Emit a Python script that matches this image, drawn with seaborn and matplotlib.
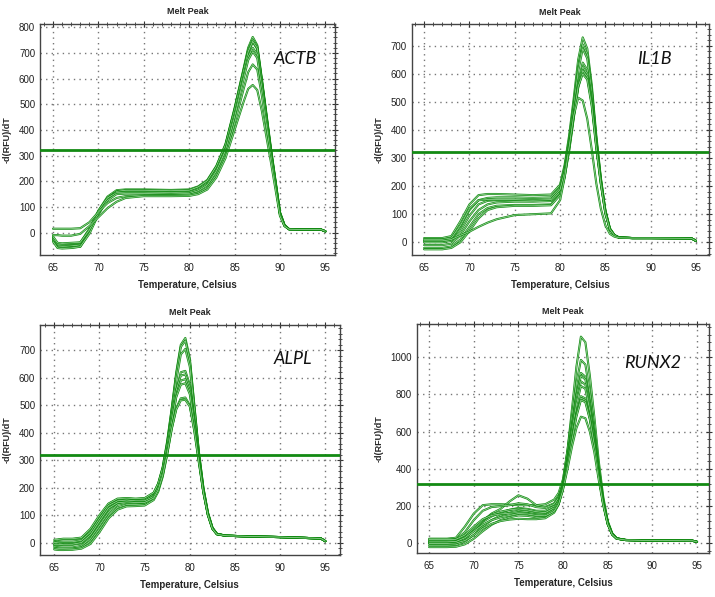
from __future__ import annotations

from typing import List

import matplotlib.pyplot as plt
import matplotlib.patheffects as pe
import pandas as pd
import seaborn as sns
from matplotlib.ticker import AutoMinorLocator, MultipleLocator

THRESHOLD = 320

# ACTB
actb_temps = [65, 65.5, 66, 67, 68, 69, 70, 71, 72, 73, 75, 78, 80, 81, 82, 83, 84, 85,
              86, 86.5, 87, 87.5, 88, 89, 90, 90.5, 91, 93, 94.5, 95]
actb_curves = [
    [-20, -50, -52, -50, -45, 10, 85, 140, 165, 168, 168, 166, 168, 180, 205, 260, 345, 485, 640, 720, 762, 730, 600, 330, 80, 30, 14, 12, 12, 5],
    [-25, -55, -55, -52, -48, 5, 80, 135, 160, 163, 163, 162, 163, 175, 200, 255, 340, 480, 635, 712, 752, 725, 595, 325, 78, 28, 13, 12, 12, 5],
    [-30, -58, -60, -58, -55, 0, 75, 130, 158, 160, 160, 158, 160, 172, 195, 250, 335, 470, 625, 700, 742, 715, 590, 320, 75, 28, 13, 12, 12, 5],
    [-35, -60, -62, -60, -55, -5, 70, 128, 160, 165, 165, 163, 165, 178, 202, 258, 342, 478, 630, 705, 745, 718, 590, 320, 76, 28, 13, 12, 12, 5],
    [-22, -45, -45, -43, -40, 15, 85, 135, 155, 157, 157, 155, 157, 168, 190, 245, 325, 460, 610, 685, 720, 695, 575, 315, 75, 28, 13, 12, 12, 5],
    [-15, -40, -42, -40, -38, 10, 75, 125, 150, 152, 152, 150, 152, 163, 185, 240, 320, 450, 600, 672, 705, 680, 565, 310, 72, 27, 13, 12, 12, 5],
    [15, 15, 15, 15, 17, 40, 80, 115, 135, 142, 145, 145, 147, 155, 175, 225, 300, 425, 560, 625, 655, 635, 535, 300, 70, 26, 13, 12, 12, 5],
    [-10, -10, -12, -12, -5, 25, 60, 95, 120, 135, 142, 142, 143, 150, 168, 215, 290, 400, 510, 560, 575, 555, 475, 275, 65, 25, 13, 12, 12, 5],
]

# IL1B
il1b_temps = [65, 66, 67, 68, 69, 70, 71, 72, 73, 75, 77, 79, 80, 80.5, 81, 81.5, 82, 82.5,
              83, 83.5, 84, 84.5, 85, 85.5, 86, 86.5, 88, 90, 94.5, 95]
il1b_curves = [
    [15, 15, 15, 22, 75, 135, 168, 172, 172, 170, 168, 170, 205, 275, 380, 510, 650, 730, 690, 560, 380, 230, 115, 50, 26, 18, 15, 15, 14, 5],
    [5, 5, 5, 10, 55, 115, 150, 158, 160, 160, 158, 160, 195, 265, 365, 490, 625, 705, 670, 545, 370, 225, 112, 48, 25, 17, 15, 15, 14, 5],
    [0, 0, 0, 5, 40, 95, 135, 148, 150, 150, 148, 150, 185, 255, 355, 480, 610, 690, 655, 535, 365, 222, 110, 48, 25, 17, 15, 15, 14, 5],
    [-10, -10, -10, -5, 25, 75, 115, 135, 142, 145, 145, 147, 180, 245, 340, 455, 570, 640, 615, 510, 350, 215, 108, 47, 25, 17, 15, 15, 14, 5],
    [-20, -20, -20, -15, 10, 55, 100, 122, 130, 133, 133, 135, 170, 235, 330, 445, 560, 625, 600, 500, 345, 212, 105, 46, 25, 17, 15, 15, 14, 5],
    [-25, -25, -25, -20, 0, 40, 85, 115, 125, 130, 130, 132, 168, 232, 325, 440, 550, 612, 590, 492, 340, 210, 104, 46, 25, 17, 15, 15, 14, 5],
    [10, 10, 10, 15, 60, 120, 150, 152, 152, 152, 150, 152, 188, 250, 340, 450, 555, 600, 580, 485, 335, 208, 103, 46, 25, 17, 15, 15, 14, 5],
    [5, 5, 5, 10, 25, 38, 55, 70, 82, 97, 100, 103, 150, 230, 340, 450, 515, 505, 440, 330, 210, 120, 60, 30, 20, 16, 15, 15, 14, 5],
]

# ALPL
alpl_temps = [65, 65.5, 66, 67, 68, 69, 70, 71, 72, 73, 74, 75, 76, 76.5, 77, 77.5, 78, 78.5,
              79, 79.5, 80, 80.5, 81, 81.5, 82, 82.5, 83, 84, 87, 90, 94.5, 95]
alpl_curves = [
    [5, 10, 12, 12, 15, 45, 95, 140, 158, 160, 158, 160, 180, 215, 275, 370, 490, 620, 720, 745, 670, 500, 330, 200, 110, 55, 32, 25, 22, 20, 15, 5],
    [-5, 0, 0, 0, 5, 35, 85, 132, 150, 155, 153, 155, 175, 210, 270, 365, 485, 612, 712, 735, 662, 495, 328, 198, 108, 54, 32, 25, 22, 20, 15, 5],
    [-10, -10, -8, -8, -3, 25, 75, 122, 145, 150, 148, 150, 170, 205, 262, 355, 470, 590, 685, 705, 640, 485, 322, 195, 106, 53, 31, 25, 22, 20, 15, 5],
    [-15, -18, -18, -18, -12, 15, 62, 110, 138, 145, 143, 145, 165, 198, 255, 345, 450, 555, 620, 625, 575, 450, 310, 190, 104, 52, 31, 25, 22, 20, 15, 5],
    [10, 12, 14, 14, 18, 50, 100, 142, 160, 162, 160, 162, 182, 215, 272, 360, 460, 555, 608, 612, 565, 445, 308, 188, 103, 52, 31, 25, 22, 20, 15, 5],
    [-20, -22, -22, -22, -18, 5, 50, 98, 128, 138, 138, 140, 160, 192, 248, 335, 438, 535, 590, 595, 552, 438, 305, 186, 102, 51, 31, 25, 22, 20, 15, 5],
    [0, 2, 3, 3, 8, 38, 88, 135, 152, 155, 152, 152, 168, 200, 255, 340, 440, 530, 575, 580, 540, 430, 300, 185, 101, 51, 30, 25, 22, 20, 15, 5],
    [-25, -27, -27, -26, -22, -5, 38, 88, 120, 132, 133, 135, 155, 185, 240, 322, 415, 490, 525, 528, 500, 410, 295, 183, 100, 50, 30, 25, 22, 20, 15, 5],
    [-8, -8, -6, -6, 0, 28, 78, 125, 145, 148, 146, 146, 162, 192, 245, 325, 415, 485, 518, 520, 495, 405, 292, 182, 100, 50, 30, 25, 22, 20, 15, 5],
]

# RUNX2
runx2_temps = [65, 66, 67, 68, 69, 70, 71, 72, 73, 74, 75, 76, 77, 78, 79, 79.5, 80, 80.5,
               81, 81.5, 82, 82.5, 83, 83.5, 84, 84.5, 85, 85.5, 86, 87, 90, 94.5, 95]
runx2_curves = [
    [10, 10, 10, 12, 30, 70, 115, 145, 165, 180, 190, 185, 175, 175, 200, 240, 330, 500, 720, 950, 1110, 1080, 900, 680, 440, 250, 120, 55, 28, 18, 15, 14, 8],
    [25, 25, 25, 30, 90, 160, 205, 210, 210, 208, 205, 205, 205, 210, 235, 270, 345, 500, 680, 860, 985, 960, 810, 620, 410, 235, 115, 52, 27, 18, 15, 14, 8],
    [0, 0, 0, 3, 25, 70, 120, 160, 185, 225, 258, 240, 205, 195, 215, 250, 325, 470, 640, 800, 915, 895, 760, 590, 390, 225, 112, 50, 26, 18, 15, 14, 8],
    [15, 15, 15, 20, 60, 125, 175, 195, 200, 205, 215, 210, 195, 190, 210, 245, 320, 460, 630, 790, 900, 880, 750, 580, 385, 222, 110, 50, 26, 18, 15, 14, 8],
    [-10, -10, -10, -8, 10, 45, 90, 125, 150, 165, 175, 170, 160, 158, 185, 225, 310, 450, 610, 765, 870, 852, 730, 568, 378, 220, 108, 49, 26, 18, 15, 14, 8],
    [5, 5, 5, 8, 35, 80, 125, 155, 170, 180, 185, 180, 170, 165, 190, 230, 312, 445, 600, 745, 845, 830, 715, 558, 372, 218, 107, 49, 26, 18, 15, 14, 8],
    [-20, -20, -20, -18, -5, 25, 65, 100, 125, 140, 150, 148, 140, 140, 170, 212, 300, 425, 570, 700, 790, 778, 680, 538, 362, 214, 106, 48, 26, 18, 15, 14, 8],
    [20, 20, 20, 22, 45, 90, 130, 150, 158, 162, 165, 162, 155, 152, 180, 220, 305, 425, 565, 692, 780, 768, 672, 532, 360, 213, 105, 48, 26, 18, 15, 14, 8],
    [0, 0, 0, 2, 15, 45, 80, 105, 120, 128, 132, 130, 130, 135, 165, 208, 295, 418, 555, 682, 770, 758, 665, 528, 358, 212, 105, 48, 26, 18, 15, 14, 8],
    [8, 8, 8, 10, 30, 65, 100, 125, 140, 150, 160, 158, 150, 148, 172, 210, 290, 400, 520, 620, 680, 672, 600, 490, 340, 205, 102, 47, 25, 18, 15, 14, 8],
]

GREEN = "#138a13"
LINE_LIGHT = "#a6dca6"

PANELS = [
    # gene, temps, curves, axes rect, xlim, ylim, y step, label pos (axes fraction)
    ("ACTB", actb_temps, actb_curves, [0.056, 0.573, 0.413, 0.387], (63.57, 96.1), (-87, 813), 100, (0.79, 0.85)),
    ("IL1B", il1b_temps, il1b_curves, [0.576, 0.573, 0.415, 0.386], (63.64, 96.39), (-45, 776), 100, (0.76, 0.85)),
    ("ALPL", alpl_temps, alpl_curves, [0.056, 0.070, 0.419, 0.386], (63.42, 96.58), (-46, 793), 100, (0.78, 0.85)),
    ("RUNX2", runx2_temps, runx2_curves, [0.583, 0.073, 0.409, 0.384], (63.62, 96.38), (-54, 1177), 200, (0.71, 0.83)),
]


def to_long(temps: List[float], curves: List[List[float]]) -> pd.DataFrame:
    rows = []
    for i, values in enumerate(curves):
        for t, v in zip(temps, values):
            rows.append({"temp": t, "value": v, "well": i})
    return pd.DataFrame(rows)


def draw_panel(fig, gene, temps, curves, rect, xlim, ylim, ystep, label_pos) -> None:
    ax = fig.add_axes(rect)
    df = to_long(temps, curves)
    sns.lineplot(
        data=df, x="temp", y="value", units="well", estimator=None,
        color=LINE_LIGHT, linewidth=0.5, ax=ax, legend=False,
        path_effects=[pe.Stroke(linewidth=1.5, foreground=GREEN), pe.Normal()],
    )
    ax.axhline(THRESHOLD, color=GREEN, linewidth=2, zorder=5)

    ax.set_xlim(*xlim)
    ax.set_ylim(*ylim)
    ax.xaxis.set_major_locator(MultipleLocator(5))
    ax.yaxis.set_major_locator(MultipleLocator(ystep))
    ax.xaxis.set_minor_locator(AutoMinorLocator(5))
    ax.yaxis.set_minor_locator(AutoMinorLocator(5))
    ax.set_xticks(range(65, 96, 5))
    ax.grid(True, which="major", color="#777777", linestyle=(0, (1, 3)), linewidth=1.0)
    ax.tick_params(which="both", direction="inout", top=True, right=True,
                   labeltop=False, labelright=False, colors="#333333", labelcolor="#222222")
    ax.tick_params(which="major", length=4, labelsize=7)
    ax.tick_params(which="minor", length=2.5)
    ax.tick_params(axis="y", which="major", pad=1.5)
    for s in ax.spines.values():
        s.set_color("#444444")
        s.set_linewidth(1.0)

    ax.set_title("Melt Peak", fontsize=6.5, fontweight="bold", pad=7)
    ax.set_xlabel("Temperature, Celsius", fontsize=7, fontweight="bold", labelpad=5)
    ax.set_ylabel("-d(RFU)/dT", fontsize=6.5, fontweight="bold", labelpad=5)
    ax.text(label_pos[0], label_pos[1], gene, transform=ax.transAxes, fontsize=13,
            fontstyle="italic", family=["Lato", "DejaVu Sans"], ha="left", va="center",
            color="#111111")


def main() -> None:
    sns.set_style("white")
    plt.rcParams["font.family"] = ["Liberation Sans", "DejaVu Sans"]
    fig = plt.figure(figsize=(7.15, 5.97), dpi=100)
    for panel in PANELS:
        draw_panel(fig, *panel)
    fig.savefig("out.png", dpi=100)
    plt.close(fig)


if __name__ == "__main__":
    main()
